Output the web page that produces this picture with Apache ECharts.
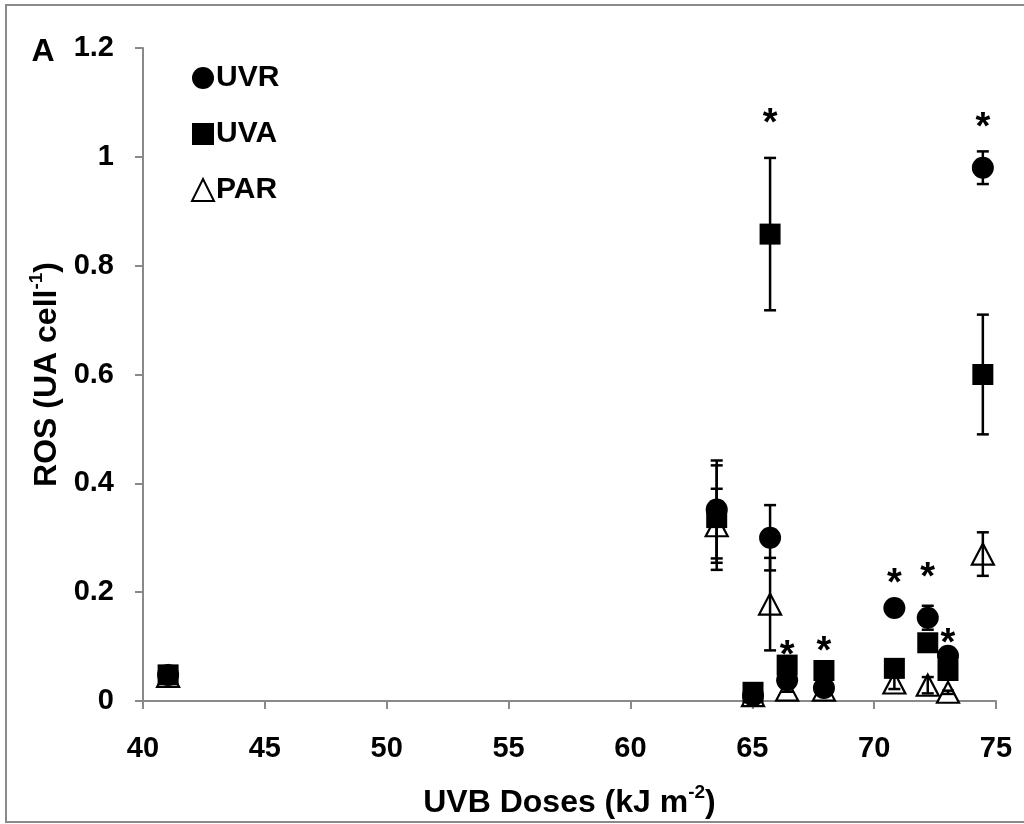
<!DOCTYPE html>
<html>
<head>
<meta charset="utf-8">
<script src="https://cdn.jsdelivr.net/npm/echarts@6/dist/echarts.min.js"></script>
<style>
html,body{margin:0;padding:0;background:#fff;}
#chart{width:1024px;height:824px;}
</style>
</head>
<body>
<div id="chart"></div>
<script>
// UVB doses (x)
const doses = [41.03, 63.54, 65.03, 65.73, 66.43, 67.94, 70.83, 72.2, 73.03, 74.46];
// ROS values per treatment
const uvr = [0.048, 0.352, 0.010, 0.300, 0.038, 0.024, 0.171, 0.153, 0.083, 0.980];
const uvrErr = [0.004, 0.090, 0.004, 0.060, 0.004, 0.004, 0.004, 0.022, 0.004, 0.030];
const uva = [0.048, 0.337, 0.016, 0.858, 0.066, 0.056, 0.060, 0.107, 0.056, 0.600];
const uvaErr = [0.004, 0.096, 0.004, 0.140, 0.004, 0.004, 0.004, 0.004, 0.004, 0.110];
const par = [0.045, 0.322, 0.010, 0.178, 0.020, 0.020, 0.033, 0.029, 0.016, 0.270];
const parErr = [0.003, 0.068, 0.003, 0.085, 0.003, 0.003, 0.011, 0.015, 0.003, 0.040];
// significance marks (*)
const sigX = [65.73, 66.43, 67.94, 70.83, 72.2, 73.03, 74.46];
const sigY = [1.076, 0.099, 0.106, 0.231, 0.242, 0.120, 1.069];
const xTicks = [40, 45, 50, 55, 60, 65, 70, 75];
const yTicks = [0, 0.2, 0.4, 0.6, 0.8, 1, 1.2];

const FONT = "Liberation Sans, Arial, sans-serif";
const pts = (ys) => doses.map((x, i) => [x, ys[i]]);
const errPts = (ys, es) => doses.map((x, i) => [x, ys[i], es[i]]);

function errItem(params, api) {
  const x = api.value(0), y = api.value(1), e = api.value(2);
  const t = api.coord([x, y + e]);
  const b = api.coord([x, y - e]);
  const hw = 6;
  const st = {stroke: '#000', lineWidth: 2.5};
  return {
    type: 'group',
    children: [
      {type: 'line', shape: {x1: t[0], y1: t[1], x2: b[0], y2: b[1]}, style: st},
      {type: 'line', shape: {x1: t[0] - hw, y1: t[1], x2: t[0] + hw, y2: t[1]}, style: st},
      {type: 'line', shape: {x1: b[0] - hw, y1: b[1], x2: b[0] + hw, y2: b[1]}, style: st}
    ]
  };
}
function errSeries(ys, es) {
  return {
    type: 'custom', renderItem: errItem, data: errPts(ys, es), z: 10,
    encode: {x: 0, y: 1}, silent: true
  };
}

const chart = echarts.init(document.getElementById('chart'));
const axisGray = '#898989';
const richTitle = {
  b: {fontFamily: FONT, fontWeight: 'bold', fontSize: 32, color: '#000', lineHeight: 36, verticalAlign: 'bottom'},
  s: {fontFamily: FONT, fontWeight: 'bold', fontSize: 19, color: '#000', lineHeight: 36, verticalAlign: 'top', padding: [0, 0, 14, 0]}
};
chart.setOption({
  animation: false,
  backgroundColor: '#fff',
  grid: {left: 143, right: 28, top: 48, bottom: 118, containLabel: false},
  graphic: [
    {type: 'rect', shape: {x: 6, y: 5, width: 1040, height: 817}, style: {fill: 'none', stroke: '#8a8a8a', lineWidth: 2}, z: -1},
    {type: 'text', x: 43, y: 52, style: {text: 'A', fontFamily: FONT, fontWeight: 'bold', fontSize: 32, fill: '#000', align: 'center', verticalAlign: 'middle'}}
  ],
  legend: {
    orient: 'vertical', left: 186, top: 58,
    itemWidth: 22, itemHeight: 22, itemGap: 26,
    data: ['UVR', 'UVA', 'PAR'],
    textStyle: {fontFamily: FONT, fontWeight: 'bold', fontSize: 30, color: '#000', lineHeight: 30, padding: [0, 0, 0, -3]}
  },
  xAxis: {
    type: 'value', min: 40, max: 75, interval: 5,
    name: '{b|UVB Doses (kJ m}{s|-2}{b|)}',
    nameLocation: 'middle', nameGap: 82,
    nameTextStyle: {rich: richTitle},
    axisLine: {show: true, onZero: false, lineStyle: {color: axisGray, width: 2}},
    axisTick: {show: true, inside: false, length: 8, lineStyle: {color: axisGray, width: 2}},
    axisLabel: {fontFamily: FONT, fontWeight: 'bold', fontSize: 29, color: '#000', margin: 33,
      formatter: (v) => xTicks.includes(v) ? String(v) : ''},
    splitLine: {show: false}
  },
  yAxis: {
    type: 'value', min: 0, max: 1.2, interval: 0.2,
    name: '{b|ROS (UA cell}{s|-1}{b|)}',
    nameLocation: 'middle', nameGap: 80,
    nameTextStyle: {rich: richTitle},
    axisLine: {show: true, lineStyle: {color: axisGray, width: 2}},
    axisTick: {show: true, inside: false, length: 8, lineStyle: {color: axisGray, width: 2}},
    axisLabel: {fontFamily: FONT, fontWeight: 'bold', fontSize: 29, color: '#000', margin: 29,
      formatter: (v) => {
        const m = yTicks.find(t => Math.abs(t - v) < 1e-9);
        return m === undefined ? '' : String(m);
      }},
    splitLine: {show: false}
  },
  series: [
    {name: 'PAR', type: 'scatter', symbol: 'triangle', symbolSize: [22, 21], data: pts(par), z: 3,
      itemStyle: {color: '#fff', borderColor: '#000', borderWidth: 2.2, opacity: 1}},
    {name: 'UVA', type: 'scatter', symbol: 'rect', symbolSize: 21, data: pts(uva), z: 4,
      itemStyle: {color: '#000', opacity: 1}},
    {name: 'UVR', type: 'scatter', symbol: 'circle', symbolSize: 22, data: pts(uvr), z: 5,
      itemStyle: {color: '#000', opacity: 1}},
    errSeries(par, parErr),
    errSeries(uva, uvaErr),
    errSeries(uvr, uvrErr),
    {
      type: 'custom', z: 12, silent: true, encode: {x: 0, y: 1},
      data: sigX.map((x, i) => [x, sigY[i]]),
      renderItem: (params, api) => {
        const p = api.coord([api.value(0), api.value(1)]);
        return {type: 'text', x: p[0], y: p[1] + 9,
          style: {text: '*', fontFamily: FONT, fontWeight: 'bold', fontSize: 38, fill: '#000', align: 'center', verticalAlign: 'middle'}};
      }
    }
  ]
});
</script>
</body>
</html>
